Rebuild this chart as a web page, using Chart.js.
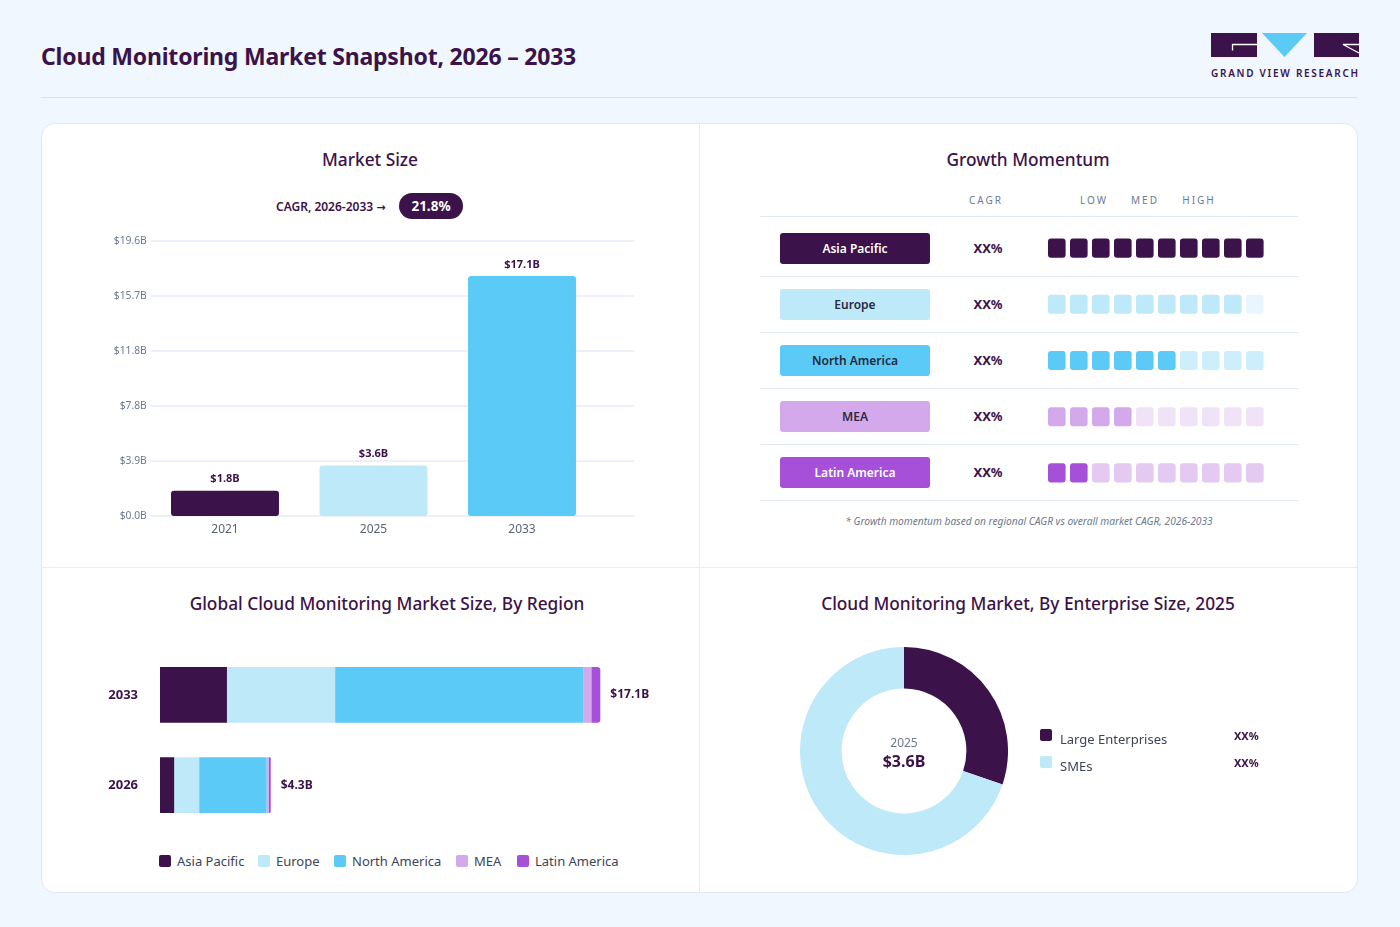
<!DOCTYPE html>
<html><head><meta charset="utf-8">
<script src="https://cdn.jsdelivr.net/npm/chart.js@4.4.1/dist/chart.umd.min.js"></script>
<style>
body{margin:0;background:#f0f7fe;font-family:"Noto Sans","Open Sans",sans-serif;}
#page{position:relative;width:1400px;height:927px;overflow:hidden;background:#f0f7fe;}
.abs{position:absolute;}
.title{left:41px;top:40px;font-size:23px;font-weight:700;color:#3b1249;letter-spacing:-0.2px;white-space:nowrap;}
.hline{left:41px;top:97px;width:1317px;height:1px;background:#d9e3ee;}
.card{left:41px;top:123px;width:1315px;height:768px;background:#fff;border:1px solid #e0e8f1;border-radius:14px;}
.vdiv{left:699px;top:124px;width:1px;height:768px;background:#e6edf4;}
.hdiv{left:42px;top:567px;width:1315px;height:1px;background:#e6edf4;}
.ptitle{font-size:17.3px;font-weight:500;color:#3b1249;text-align:center;white-space:nowrap;transform:translateX(-50%);}
.cagrtxt{left:276px;top:198px;font-size:12px;font-weight:600;color:#3b1249;white-space:nowrap;}
.arrow{font-family:"DejaVu Sans",sans-serif;font-size:11px;font-weight:700;}
.cagrpill{left:399px;top:193px;width:64px;height:26px;border-radius:13px;background:#3b1249;color:#fff;font-size:13.5px;font-weight:700;text-align:center;line-height:26px;}
.colh{top:193px;font-size:10px;letter-spacing:2px;color:#6b7a90;transform:translateX(-50%);white-space:nowrap;}
.rline{left:760px;width:538px;height:1px;background:#e3eaf2;}
.pill{left:780px;width:150px;height:31px;border-radius:3px;font-size:12px;font-weight:600;text-align:center;line-height:31px;}
.xx{left:958px;width:60px;text-align:center;font-size:13px;font-weight:700;color:#3b1249;}
.foot{left:1029px;top:514px;transform:translateX(-50%);font-size:10.2px;font-style:italic;color:#6b7a90;white-space:nowrap;}
.lg{font-size:13px;color:#3d4456;white-space:nowrap;}
.sq{width:12px;height:12px;border-radius:2px;}
.ctr1{left:854px;top:734px;width:100px;text-align:center;font-size:12px;color:#6b7a90;}
.ctr2{left:854px;top:750px;width:100px;text-align:center;font-size:16px;font-weight:700;color:#3b1249;}
.xxs{font-size:11px;font-weight:700;color:#3b1249;}
</style></head>
<body><div id="page">
<div class="abs title">Cloud Monitoring Market Snapshot, 2026 – 2033</div>
<svg class="abs" style="left:1211px;top:33px" width="149" height="25" viewBox="0 0 149 25">
  <rect x="0" y="0" width="46" height="24" fill="#3b1249"/>
  <path d="M21.5 17.5 V11.5 H46" stroke="#fff" stroke-width="1.3" fill="none"/>
  <polygon points="51,0 96,0 73.5,24" fill="#5ccaf6"/>
  <rect x="103" y="0" width="45" height="24" fill="#3b1249"/>
  <path d="M148 11.5 H132 L148 20" stroke="#fff" stroke-width="1.3" fill="none"/>
</svg>
<div class="abs" style="left:1211px;top:66px;font-size:10px;font-weight:600;letter-spacing:1.72px;color:#3b1249;white-space:nowrap;">GRAND VIEW RESEARCH</div>
<div class="abs hline"></div>
<div class="abs card"></div>
<div class="abs vdiv"></div>
<div class="abs hdiv"></div>

<div class="abs ptitle" style="left:370px;top:148px;">Market Size</div>
<div class="abs ptitle" style="left:1028px;top:148px;">Growth Momentum</div>
<div class="abs ptitle" style="left:387px;top:592px;">Global Cloud Monitoring Market Size, By Region</div>
<div class="abs ptitle" style="left:1028px;top:592px;">Cloud Monitoring Market, By Enterprise Size, 2025</div>

<div class="abs cagrtxt"><span id="cagrTxt"></span> <span class="arrow">&#x2192;</span></div>
<div class="abs cagrpill" id="cagrPill"></div>

<div class="abs" style="left:100px;top:225px;width:545px;height:315px;"><canvas id="sizeChart"></canvas></div>

<div id="momentum"></div>
<div class="abs" style="left:1048px;top:220px;width:220px;height:281px;"><canvas id="momChart"></canvas></div>
<div class="abs foot">* Growth momentum based on regional CAGR vs overall market CAGR, 2026-2033</div>

<div class="abs" style="left:95px;top:640px;width:590px;height:200px;"><canvas id="regionChart"></canvas></div>
<div id="regionLegend"></div>

<div class="abs" style="left:800px;top:647px;width:208px;height:208px;"><canvas id="donutChart"></canvas></div>
<div class="abs ctr1" id="ctr1"></div>
<div class="abs ctr2" id="ctr2"></div>
<div id="donutLegend"></div>
</div>
<script>
// ---------- DATA ----------
const sizeYears = ['2021', '2025', '2033'];
const sizeValues = [1.8, 3.6, 17.1];
const sizeTickValues = [0, 3.92, 7.84, 11.76, 15.68, 19.6];
const cagrLabel = 'CAGR, 2026-2033';
const cagrValue = '21.8%';

const regions = ['Asia Pacific', 'Europe', 'North America', 'MEA', 'Latin America'];
const regionYears = ['2033', '2026'];
const asiaPacific = [2.6, 0.55];
const europe = [4.2, 0.97];
const northAmerica = [9.65, 2.62];
const mea = [0.3, 0.08];
const latinAmerica = [0.35, 0.08];
const regionTotals = [17.1, 4.3];

const momentumCagr = ['XX%', 'XX%', 'XX%', 'XX%', 'XX%'];
const momentumLevels = [10, 9, 6, 4, 2];
const momentumCells = 10;
const momentumHeaders = ['CAGR', 'LOW', 'MED', 'HIGH'];

const enterpriseSegments = ['Large Enterprises', 'SMEs'];
const enterpriseShares = [30.2, 69.8];
const enterpriseShareLabels = ['XX%', 'XX%'];
const donutYear = '2025';
const donutTotal = '$3.6B';

// ---------- STYLE ----------
const C = {dark:'#3b1249', light:'#bee9f8', sky:'#5ccaf6', mea:'#d4a9ec', lat:'#a64fd9'};
const regionColors = [C.dark, C.light, C.sky, C.mea, C.lat];
const regionDim = ['#3b1249', '#e9f6fd', '#cdeefb', '#f0e2f7', '#e4c9f0'];
const pillText = ['#fff', '#2a2a40', '#1e2a40', '#2a2a40', '#fff'];
const FONT = '"Noto Sans","Open Sans",sans-serif';
Chart.defaults.font.family = FONT;
Chart.defaults.animation = false;
Chart.defaults.plugins.legend.display = false;
Chart.defaults.plugins.tooltip.enabled = false;

document.getElementById('cagrTxt').textContent = cagrLabel;
document.getElementById('cagrPill').textContent = cagrValue;

// ---------- Market size ----------
const gridExt = {
  id: 'gridExt',
  beforeDatasetsDraw(chart, args, opts) {
    const {ctx, chartArea, scales: {y}} = chart;
    ctx.save();
    ctx.strokeStyle = '#e6edf5';
    ctx.lineWidth = 1.5;
    y.ticks.forEach(t => {
      const py = Math.round(y.getPixelForValue(t.value));
      ctx.beginPath(); ctx.moveTo(chartArea.left, py); ctx.lineTo(chartArea.right + opts.extend, py); ctx.stroke();
    });
    ctx.restore();
  }
};
const sizeLabels = {
  id: 'sizeLabels',
  afterDatasetsDraw(chart) {
    const ctx = chart.ctx; ctx.save();
    ctx.font = 'bold 11px ' + FONT; ctx.fillStyle = C.dark; ctx.textAlign = 'center'; ctx.textBaseline = 'bottom';
    chart.getDatasetMeta(0).data.forEach((b, i) => ctx.fillText('$' + sizeValues[i].toFixed(1) + 'B', b.x, b.y - 6));
    ctx.restore();
  }
};
new Chart(document.getElementById('sizeChart'), {
  type: 'bar',
  data: {labels: sizeYears, datasets: [{data: sizeValues, backgroundColor: [C.dark, C.light, C.sky], borderRadius: 3, borderSkipped: false, barPercentage: 0.727, categoryPercentage: 1}]},
  options: {
    responsive: true, maintainAspectRatio: false,
    layout: {padding: {top: 16, right: 48.75, left: 0, bottom: 0}},
    plugins: {gridExt: {extend: 38}},
    scales: {
      y: {min: 0, max: 19.6, grid: {display: false, drawTicks: false}, border: {display: false},
        afterBuildTicks: s => { s.ticks = sizeTickValues.map(v => ({value: v})); },
        afterFit: s => { s.width = 50.75; },
        ticks: {padding: 4, font: {size: 10.3}, color: '#6b7a90', callback: v => '$' + v.toFixed(1) + 'B'}},
      x: {grid: {display: false, drawTicks: false}, border: {display: false},
        afterFit: s => { s.height = 24; },
        ticks: {padding: 6, font: {size: 12}, color: '#5a6478'}}
    }
  },
  plugins: [gridExt, sizeLabels]
});

// ---------- Growth momentum ----------
const mom = document.getElementById('momentum');
const hdrX = [986, 1094, 1145, 1199];
momentumHeaders.forEach((h, i) => {
  const d = document.createElement('div'); d.className = 'abs colh'; d.style.left = hdrX[i] + 'px'; d.textContent = h; mom.appendChild(d);
});
[216, 276, 332, 388, 444, 500].forEach(y => {
  const d = document.createElement('div'); d.className = 'abs rline'; d.style.top = y + 'px'; mom.appendChild(d);
});
regions.forEach((r, i) => {
  const top = 233 + i * 56;
  const p = document.createElement('div'); p.className = 'abs pill';
  p.style.top = top + 'px'; p.style.background = regionColors[i]; p.style.color = pillText[i]; p.textContent = r; mom.appendChild(p);
  const x = document.createElement('div'); x.className = 'abs xx'; x.style.top = (top + 6) + 'px'; x.textContent = momentumCagr[i]; mom.appendChild(x);
});
const momDatasets = [];
for (let j = 0; j < momentumCells; j++) {
  momDatasets.push({
    data: regions.map(() => [j, j + 0.8]),
    backgroundColor: regions.map((r, i) => j < momentumLevels[i] ? regionColors[i] : regionDim[i]),
    borderRadius: 3, borderSkipped: false, grouped: false, barPercentage: 0.34, categoryPercentage: 1
  });
}
new Chart(document.getElementById('momChart'), {
  type: 'bar',
  data: {labels: regions, datasets: momDatasets},
  options: {
    indexAxis: 'y', responsive: true, maintainAspectRatio: false, layout: {padding: 0},
    scales: {x: {display: false, min: 0, max: 10}, y: {display: false}}
  }
});

// ---------- Region stacked bar ----------
const regionSeries = [asiaPacific, europe, northAmerica, mea, latinAmerica];
const totalLabels = {
  id: 'totalLabels',
  afterDatasetsDraw(chart) {
    const ctx = chart.ctx; ctx.save();
    ctx.font = 'bold 12px ' + FONT; ctx.fillStyle = C.dark; ctx.textAlign = 'left'; ctx.textBaseline = 'middle';
    const meta = chart.getDatasetMeta(regionSeries.length - 1);
    meta.data.forEach((b, i) => ctx.fillText('$' + regionTotals[i].toFixed(1) + 'B', b.x + 10, b.y));
    ctx.restore();
  }
};
new Chart(document.getElementById('regionChart'), {
  type: 'bar',
  data: {labels: regionYears, datasets: regions.map((r, i) => ({
    label: r, data: regionSeries[i], backgroundColor: regionColors[i], borderRadius: 3,
    barPercentage: 0.616, categoryPercentage: 1}))},
  options: {
    indexAxis: 'y', responsive: true, maintainAspectRatio: false,
    layout: {padding: {top: 7.25, bottom: 7.75, right: 10}},
    scales: {
      x: {stacked: true, display: false, min: 0, max: 20},
      y: {stacked: true, grid: {display: false, drawTicks: true, tickLength: 20}, border: {display: false},
        afterFit: s => { s.width = 65; },
        ticks: {padding: 2, font: {size: 13, weight: 'bold'}, color: C.dark}}
    }
  },
  plugins: [totalLabels]
});
const rl = document.getElementById('regionLegend');
const legX = [159, 258, 334, 456, 517];
regions.forEach((r, i) => {
  const s = document.createElement('div'); s.className = 'abs sq'; s.style.left = legX[i] + 'px'; s.style.top = '855px'; s.style.background = regionColors[i]; rl.appendChild(s);
  const t = document.createElement('div'); t.className = 'abs lg'; t.style.left = (legX[i] + 18) + 'px'; t.style.top = '852px'; t.textContent = r; rl.appendChild(t);
});

// ---------- Donut ----------
new Chart(document.getElementById('donutChart'), {
  type: 'doughnut',
  data: {labels: enterpriseSegments, datasets: [{data: enterpriseShares, backgroundColor: [C.dark, C.light], borderWidth: 0, hoverOffset: 0}]},
  options: {responsive: true, maintainAspectRatio: false, cutout: '60%', layout: {padding: 0}}
});
document.getElementById('ctr1').textContent = donutYear;
document.getElementById('ctr2').textContent = donutTotal;
const dl = document.getElementById('donutLegend');
enterpriseSegments.forEach((s, i) => {
  const y = 729 + i * 27;
  const q = document.createElement('div'); q.className = 'abs sq'; q.style.left = '1040px'; q.style.top = y + 'px'; q.style.background = [C.dark, C.light][i]; dl.appendChild(q);
  const t = document.createElement('div'); t.className = 'abs lg'; t.style.left = '1060px'; t.style.top = (y + 1) + 'px'; t.textContent = s; dl.appendChild(t);
  const p = document.createElement('div'); p.className = 'abs xxs'; p.style.left = '1234px'; p.style.top = (y - 1) + 'px'; p.textContent = enterpriseShareLabels[i]; dl.appendChild(p);
});
</script>
</body></html>
